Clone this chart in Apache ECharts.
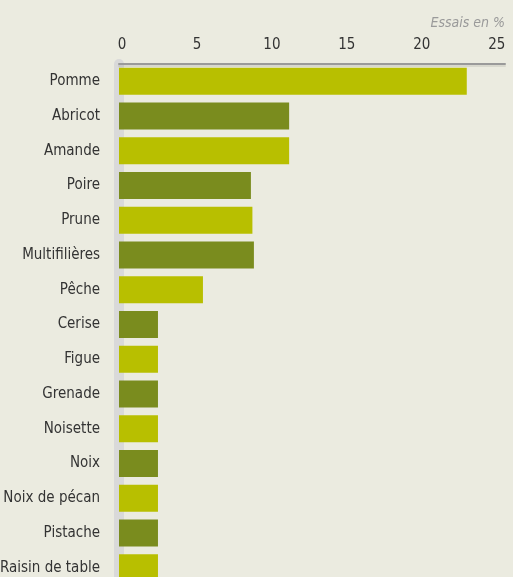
<!DOCTYPE html>
<html><head><meta charset="utf-8">
<script src="https://cdn.jsdelivr.net/npm/echarts@6/dist/echarts.min.js"></script>
<style>html,body{margin:0;padding:0;background:#ebebe0;overflow:hidden;}#c{width:513px;height:577px;}</style>
</head><body><div id="c"></div>
<script>
const categories = ["Pomme","Abricot","Amande","Poire","Prune","Multifilières","Pêche","Cerise","Figue","Grenade","Noisette","Noix","Noix de pécan","Pistache","Raisin de table"];
const values = [23.2, 11.35, 11.35, 8.8, 8.9, 9.0, 5.6, 2.6, 2.6, 2.6, 2.6, 2.6, 2.6, 2.6, 2.6];
const tickLabels = [0, 5, 10, 15, 20, 25];
const axisTitle = "Essais en %";
const colors = ["#b8bf00", "#7a8c1e"];
const font = "'Liberation Sans Narrow', 'DejaVu Sans Condensed', sans-serif";

const chart = echarts.init(document.getElementById('c'));
chart.setOption({
  backgroundColor: '#ebebe0',
  animation: false,
  title: {
    text: axisTitle, right: 3, top: 11,
    textStyle: { fontFamily: font, fontStyle: 'italic', fontWeight: 'normal', fontSize: 14, color: '#9a9a9a' }
  },
  grid: { left: 119, top: 64, width: 386, height: 521, containLabel: false, outerBoundsMode: 'none' },
  xAxis: {
    type: 'value', position: 'top', min: 0, max: 25.75, interval: 5,
    axisLine: { show: true, lineStyle: { color: '#9a9a9a', width: 2, shadowColor: 'rgba(0,0,0,0.08)', shadowOffsetY: 2, shadowBlur: 0 } },
    axisTick: { show: false },
    splitLine: { show: false },
    axisLabel: {
      showMaxLabel: false, margin: 11, padding: [0, 0, 0, 6],
      fontFamily: font, fontSize: 15, color: '#333',
      formatter: v => tickLabels.includes(v) ? String(v) : ''
    }
  },
  yAxis: {
    type: 'category', inverse: true, data: categories,
    axisLine: { show: true, lineStyle: { color: '#d9d9d9', width: 10 } },
    axisTick: { show: false },
    axisLabel: { margin: 19, fontFamily: font, fontSize: 15, color: '#333' }
  },
  series: [{
    type: 'bar', barWidth: 27,
    itemStyle: { borderWidth: 0 },
    emphasis: { disabled: true },
    data: values.map((v, i) => ({ value: v, itemStyle: { color: colors[i % 2], borderWidth: 0 } }))
  }]
});
</script></body></html>
